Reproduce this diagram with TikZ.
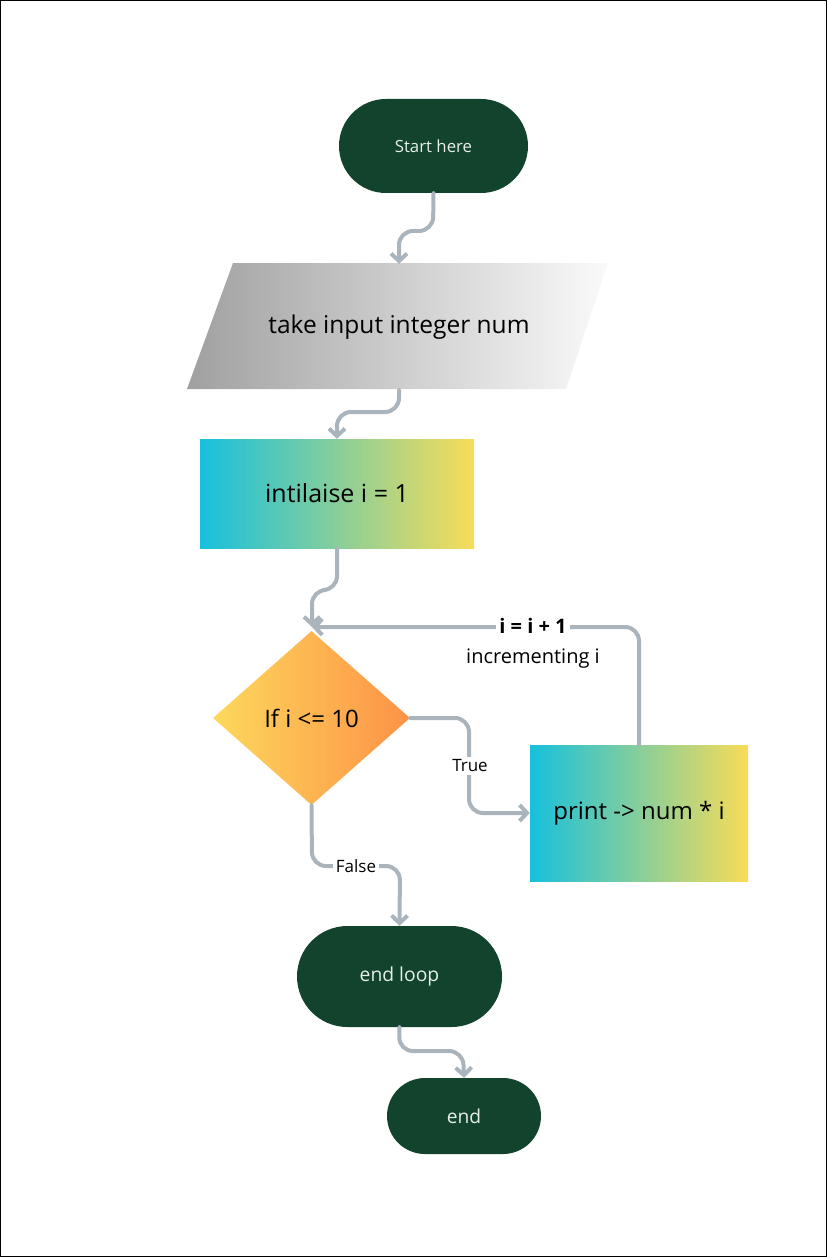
\documentclass[tikz,border=0pt]{standalone}
\usepackage{fontspec}
\setmainfont{Open Sans}
\usetikzlibrary{arrows.meta,shapes.geometric,shapes.misc}
\definecolor{dkgreen}{HTML}{12432C}
\definecolor{conncol}{HTML}{AAB4BC}
\definecolor{cyanA}{HTML}{17C0DD}
\definecolor{yellowA}{HTML}{F8DC58}
\definecolor{orngA}{HTML}{FDD85C}
\definecolor{orngB}{HTML}{FD9247}
\definecolor{grayA}{HTML}{A0A0A0}
\definecolor{grayB}{HTML}{FAFAFA}
\definecolor{paletext}{HTML}{E6EEE8}
\begin{document}
\begin{tikzpicture}[x=1pt,y=-1pt,
  term/.style={rounded rectangle, fill=dkgreen, text=paletext, inner sep=0pt},
  procbox/.style={rectangle, left color=cyanA, right color=yellowA, draw=none, inner sep=0pt, text=black},
  conn/.style={draw=conncol, line width=4pt, rounded corners=14pt, line cap=round},
  arr/.style={conn, -{Straight Barb[length=7.5pt,width=16pt,line width=4pt]}},
  lbl/.style={fill=white, inner sep=3pt, text=black}
]
\useasboundingbox (0,0) rectangle (827,1257);
\draw[black, line width=1.2pt] (0.6,0.6) rectangle (826.4,1256.4);

% shapes
\node[term, minimum width=189pt, minimum height=94pt, font=\fontsize{16.8}{20}\selectfont] (start) at (433.5,146) {Start here};

\shade[left color=grayA, right color=grayB] (233,263) -- (608,263) -- (566,389) -- (187,389) -- cycle;
\node[minimum height=126pt, inner sep=0pt, font=\fontsize{24.5}{29}\selectfont] (input) at (399,327) {take input integer num};

\node[procbox, minimum width=274pt, minimum height=109pt, font=\fontsize{25}{30}\selectfont] (init) at (337,493.5) {intilaise i = 1};

\node[diamond, aspect=1.132, minimum width=197pt, minimum height=174pt, inner sep=0pt,
  left color=orngA, right color=orngB, font=\fontsize{24}{29}\selectfont] (dec) at (311.5,718) {If i <= 10};

\node[procbox, minimum width=218pt, minimum height=136pt, font=\fontsize{24}{29}\selectfont] (print) at (639,813) {print -> num * i};

\node[term, minimum width=205pt, minimum height=101pt, font=\fontsize{19.3}{23}\selectfont] (endloop) at (399.5,976.5) {end loop};

\node[term, minimum width=154pt, minimum height=76pt, font=\fontsize{19.2}{23}\selectfont] (end) at (464,1116) {end};

\coordinate (join) at (312,627);

% connectors
\draw[arr] (start.south) -- (433,231) -- (399,231) -- (input.north);
\draw[arr] (input.south) -- (399,412) -- (337,412) -- (init.north);
\draw[arr] (init.south) -- (337,590) -- (312,590) -- (join);
\draw[arr] (print.north) -- (639,627) -- (join);
\draw[arr] (dec.east) -- (469,718) -- (469,813) -- (print.west);
\draw[arr] (dec.south) -- (312,866) -- (400,866) -- (endloop.north);
\draw[arr] (endloop.south) -- (399,1051) -- (463,1051) -- (end.north);

% labels
\node[lbl, font=\bfseries\fontsize{20}{24}\selectfont] (inc) at (533,626) {i = i + 1};
\node[text=black, font=\fontsize{20}{24}\selectfont] (incr) at (533,659) {incrementing i};
\node[lbl, font=\fontsize{17}{20}\selectfont] (truel) at (470,766) {True};
\node[lbl, font=\fontsize{17}{20}\selectfont] (falsel) at (356,866) {False};
\end{tikzpicture}
\end{document}
